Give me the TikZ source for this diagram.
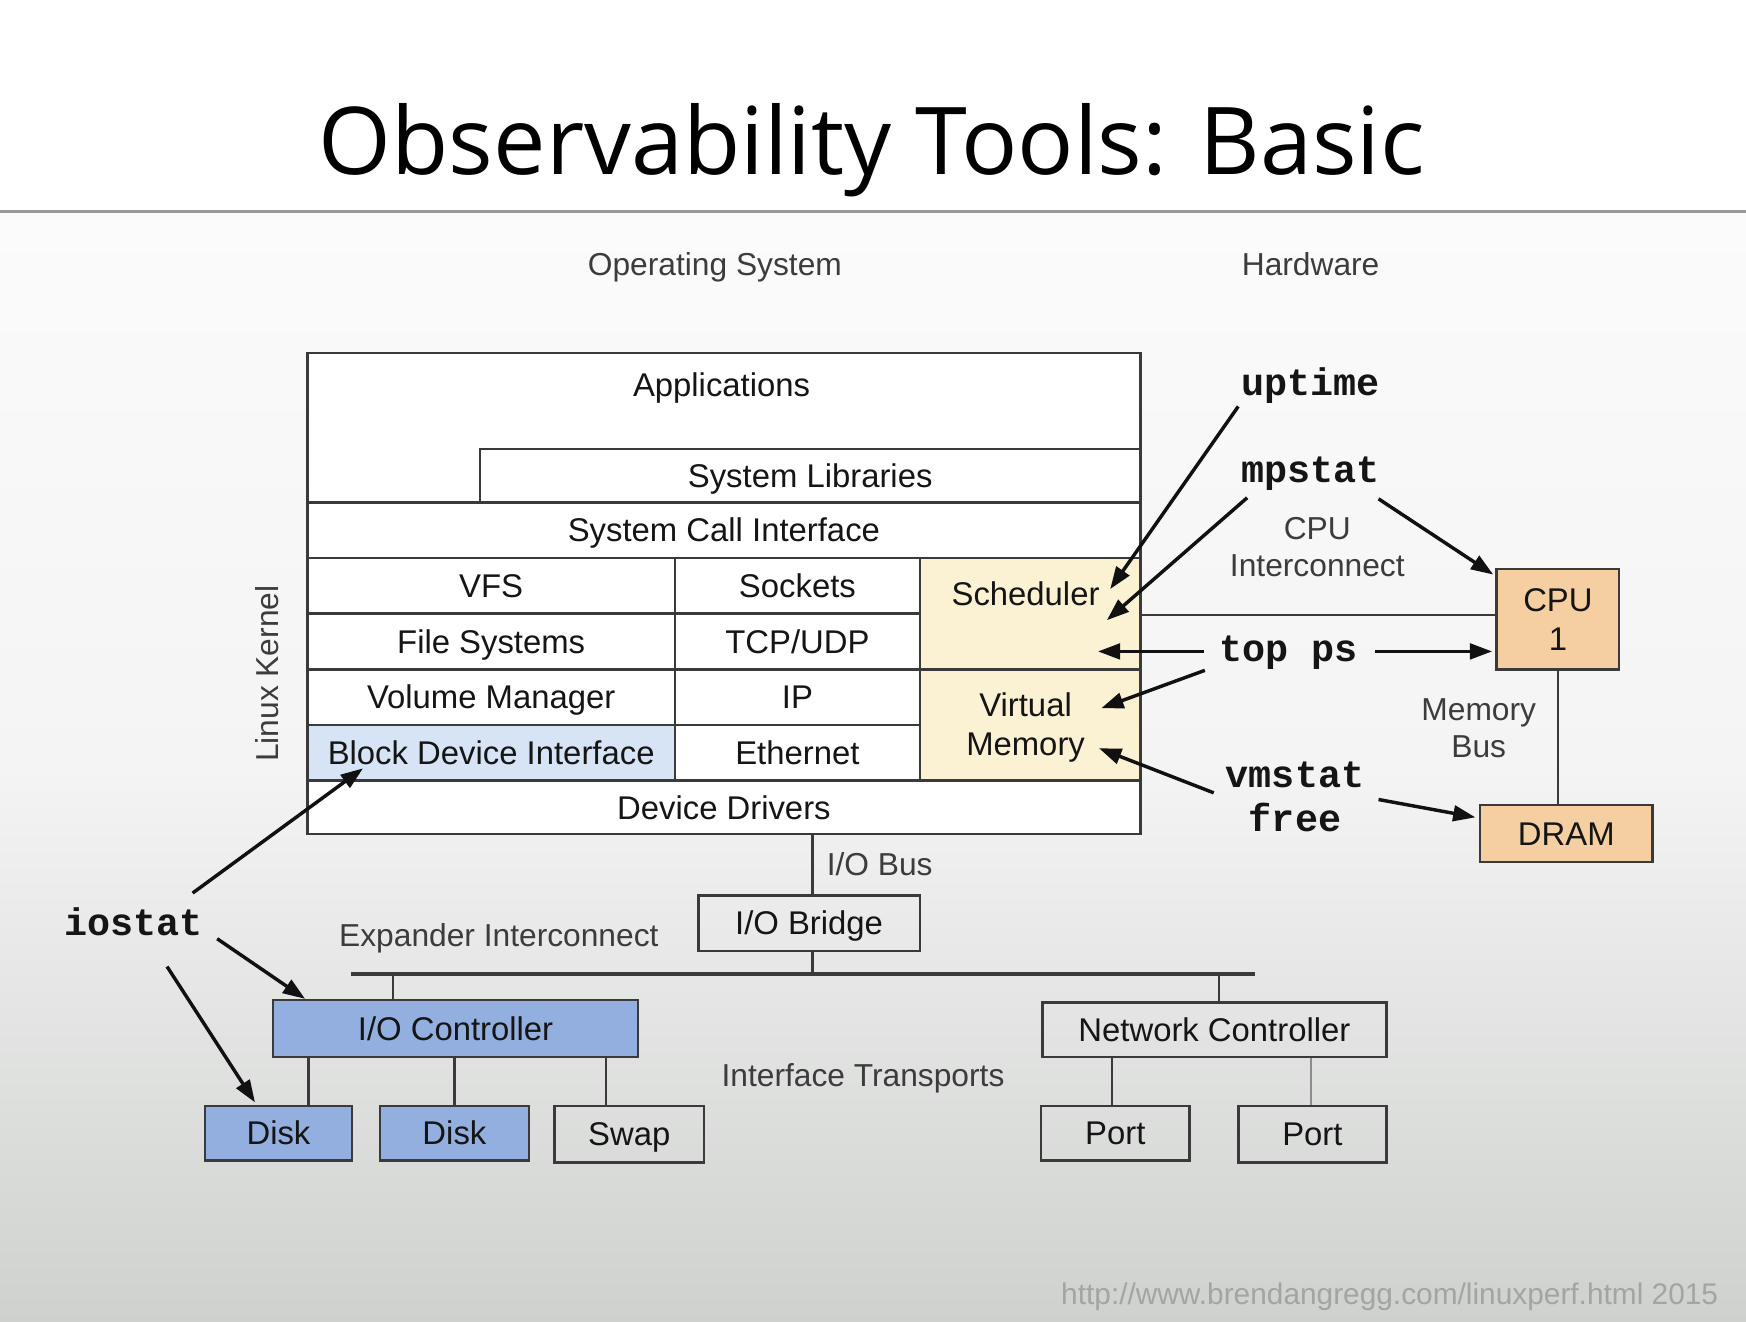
\documentclass[tikz,border=0pt]{standalone}
\usepackage{fontspec}
\setmainfont{Liberation Sans}
\newfontfamily\titlefont{Open Sans}
\newfontfamily\toolfont{Liberation Mono}
\usetikzlibrary{arrows.meta,calc}
\definecolor{boxline}{HTML}{3A3A3A}
\definecolor{txt}{HTML}{151515}
\definecolor{notecol}{HTML}{3C3C3C}
\definecolor{arrowcol}{HTML}{111111}
\definecolor{bdiblue}{HTML}{D6E4F6}
\definecolor{cream}{HTML}{FBF1D3}
\definecolor{peach}{HTML}{F5CFA2}
\definecolor{ioblue}{HTML}{93AFDF}
\definecolor{bgtop}{HTML}{FAFBFA}
\definecolor{bgmid}{HTML}{F3F4F3}
\definecolor{bgbot}{HTML}{CFD1CF}
\definecolor{footcol}{HTML}{A3A5A3}
\begin{document}
\begin{tikzpicture}[x=1pt,y=-1pt,
  lbl/.style={font=\fontsize{29.5}{35}\selectfont, text=txt, inner sep=0pt},
  note/.style={font=\fontsize{28.5}{33}\selectfont, text=notecol, inner sep=0pt, align=center},
  tool/.style={font=\toolfont\bfseries\fontsize{34.5}{40}\selectfont, text=txt, inner sep=0pt, anchor=base},
  cell/.style={draw=boxline, fill=white, line width=2.2pt, anchor=north west, inner sep=0pt, lbl, text height=21pt, text depth=0pt},
  mcell/.style={draw=boxline, line width=2.2pt, anchor=north west, inner sep=0pt, lbl, align=center},
  hwbox/.style={draw=boxline, line width=2.2pt, anchor=north west, inner sep=0pt, lbl, text height=21pt, text depth=0pt},
  wire/.style={draw=boxline, line width=2.2pt},
  probe/.style={draw=arrowcol, line width=3.1pt, -{Triangle[length=20pt,width=14pt]}},
]
\useasboundingbox (0,0) rectangle (1568,1187);
% background
\shade[top color=bgtop, bottom color=bgbot, middle color=bgmid] (0,191) rectangle (1568,1187);
\fill[white] (0,0) rectangle (1568,190);
\draw[color=black!40, line width=2.5pt] (0,190) -- (1568,190);

% title
\node[font=\titlefont\fontsize{84}{90}\selectfont, text=black, inner sep=0pt, anchor=base] (title) at (783,157) {Observability Tools: Basic};

% headings
\node[note] (os) at (642,240) {Operating System};
\node[note] (hw) at (1177,237) {Hardware};

% kernel stack
\node[cell, minimum width=748, minimum height=134] (apps) at (275,316) {};
\node[lbl] (appslbl) at (648,348) {Applications};
\node[cell, minimum width=593, minimum height=48] (syslib) at (430,402) {System Libraries};
\node[cell, minimum width=748, minimum height=50] (sci) at (275,450) {System Call Interface};
\node[cell, minimum width=330, minimum height=50] (vfs) at (275,500) {VFS};
\node[cell, minimum width=220, minimum height=50] (sock) at (605,500) {Sockets};
\node[cell, minimum width=330, minimum height=50] (fs) at (275,550) {File Systems};
\node[cell, minimum width=220, minimum height=50] (tcp) at (605,550) {TCP/UDP};
\node[cell, minimum width=330, minimum height=50] (vol) at (275,600) {Volume Manager};
\node[cell, minimum width=220, minimum height=50] (ip) at (605,600) {IP};
\node[cell, fill=bdiblue, minimum width=330, minimum height=50] (bdi) at (275,650) {Block Device Interface};
\node[cell, minimum width=220, minimum height=50] (eth) at (605,650) {Ethernet};
\node[cell, fill=cream, minimum width=198, minimum height=100] (sched) at (825,500) {};
\node[lbl] (schedlbl) at (921,533) {Scheduler};
\node[cell, fill=cream, minimum width=198, minimum height=100] (vmem) at (825,600) {};
\node[lbl, align=center] (vmlbl) at (921,653) {Virtual\\Memory};
\node[cell, minimum width=748, minimum height=48] (dd) at (275,700) {Device Drivers};
\node[note, rotate=90] (lk) at (240,605) {Linux Kernel};

% hardware
\node[mcell, fill=peach, minimum width=110, minimum height=90] (cpu) at (1343,510) {CPU\\1};
\node[hwbox, fill=peach, minimum width=155, minimum height=51] (dram) at (1328,722) {DRAM};
\node[note] (cpuic) at (1183,491) {CPU\\Interconnect};
\node[note] (membus) at (1328,654) {Memory\\Bus};
\draw[wire] (sched.east |- vfs.south) -- (cpu.west |- vfs.south);
\draw[wire] (cpu.south) -- (cpu.south |- dram.north);

% I/O
\node[hwbox, minimum width=199, minimum height=50] (bridge) at (626,803) {I/O Bridge};
\node[note] (iobus) at (790,776) {I/O Bus};
\draw[wire] ([xshift=3pt]bridge.north) -- ([xshift=3pt]bridge.north |- dd.south);
\coordinate (exL) at (315,875);
\coordinate (exR) at (1127,875);
\draw[boxline, line width=3.5pt] (exL) -- (exR);
\draw[wire] ([xshift=3pt]bridge.south) -- ([xshift=3pt]bridge.south |- exL);
\node[note] (expander) at (448,843) {Expander Interconnect};
\node[hwbox, fill=ioblue, minimum width=328, minimum height=51] (ioc) at (244,897) {I/O Controller};
\node[hwbox, minimum width=309, minimum height=49] (nc) at (935,899) {Network Controller};
\draw[wire] ([xshift=-56pt]ioc.north) -- ([xshift=-56pt]ioc.north |- exL);
\draw[wire] ([xshift=4pt]nc.north) -- ([xshift=4pt]nc.north |- exL);
\node[hwbox, fill=ioblue, minimum width=132, minimum height=49] (disk1) at (183,992) {Disk};
\node[hwbox, fill=ioblue, minimum width=134, minimum height=49] (disk2) at (340,992) {Disk};
\node[hwbox, minimum width=134, minimum height=51] (swap) at (497,992) {Swap};
\node[hwbox, minimum width=133, minimum height=49] (port1) at (934,992) {Port};
\node[hwbox, minimum width=133, minimum height=51] (port2) at (1111,992) {Port};
\draw[wire] ([xshift=27pt]disk1.north) -- ([xshift=27pt]disk1.north |- ioc.south);
\draw[wire] (disk2.north) -- (disk2.north |- ioc.south);
\draw[wire] ([xshift=-21pt]swap.north) -- ([xshift=-21pt]swap.north |- ioc.south);
\draw[wire] ([xshift=-3pt]port1.north) -- ([xshift=-3pt]port1.north |- nc.south);
\draw[draw=black!45, line width=1.5pt] ([xshift=-1pt]port2.north) -- ([xshift=-1pt]port2.north |- nc.south);
\node[note] (iftrans) at (775,968) {Interface Transports};

% tools
\node[tool] (uptime) at (1177,355) {uptime};
\node[tool] (mpstat) at (1177,433) {mpstat};
\node[tool] (topps) at (1157,594) {top ps};
\node[tool] (vmstat) at (1163,707) {vmstat};
\node[tool] (free) at (1163,747) {free};
\node[tool] (iostat) at (120,840) {iostat};

\coordinate (t1) at (1112,365); \coordinate (h1) at (997,529);
\coordinate (t2) at (1120,447); \coordinate (h2) at (994,557);
\coordinate (t3) at (1238,448); \coordinate (h3) at (1341,516);
\coordinate (t4) at (1081,585); \coordinate (h4) at (986,585);
\coordinate (t5) at (1235,585); \coordinate (h5) at (1340,585);
\coordinate (t6) at (1082,602); \coordinate (h6) at (989,636);
\coordinate (t7) at (1090,712); \coordinate (h7) at (987,672);
\coordinate (t8) at (1238,718); \coordinate (h8) at (1325,734);
\coordinate (t9) at (173,802); \coordinate (h9) at (326,690);
\coordinate (t10) at (195,843); \coordinate (h10) at (274,897);
\coordinate (t11) at (150,868); \coordinate (h11) at (229,990);
\draw[probe] (t1) -- (h1);
\draw[probe] (t2) -- (h2);
\draw[probe] (t3) -- (h3);
\draw[probe] (t4) -- (h4);
\draw[probe] (t5) -- (h5);
\draw[probe] (t6) -- (h6);
\draw[probe] (t7) -- (h7);
\draw[probe] (t8) -- (h8);
\draw[probe] (t9) -- (h9);
\draw[probe] (t10) -- (h10);
\draw[probe] (t11) -- (h11);

% footer
\node[font=\fontsize{26.8}{30}\selectfont, text=footcol, inner sep=0pt] (footer) at (1248,1165) {http://www.brendangregg.com/linuxperf.html 2015};
\end{tikzpicture}
\end{document}
